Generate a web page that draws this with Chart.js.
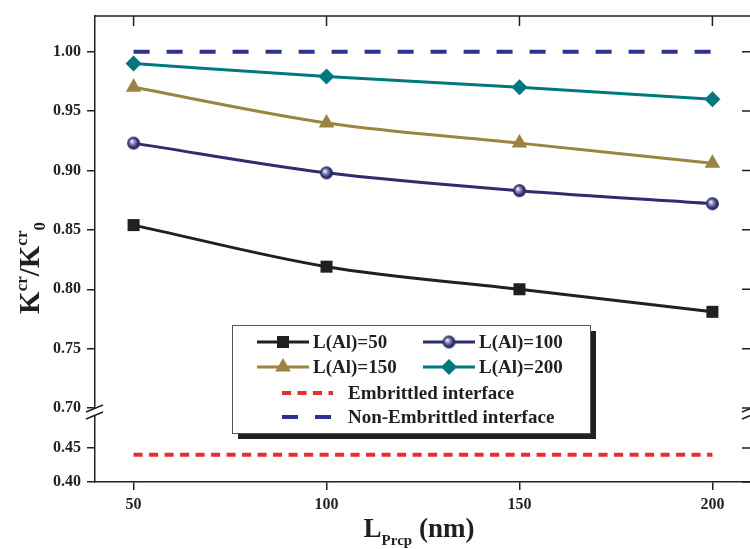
<!DOCTYPE html>
<html>
<head>
<meta charset="utf-8">
<title>K/K0 vs L_Prcp</title>
<script src="https://cdn.jsdelivr.net/npm/chart.js@4.4.1/dist/chart.umd.min.js"></script>
<style>
  html, body { margin: 0; padding: 0; background: #fff; }
  #wrap { width: 750px; height: 549px; overflow: hidden; position: relative; }
</style>
</head>
<body>
<div id="wrap"><canvas id="myChart" width="760" height="549"></canvas></div>
<script>
// data
const lPrcp = [50, 100, 150, 200];
const kAl50 = [0.854, 0.819, 0.800, 0.781];
const kAl100 = [0.923, 0.898, 0.883, 0.872];
const kAl150 = [0.970, 0.940, 0.923, 0.906];
const kAl200 = [0.990, 0.979, 0.970, 0.960];
const refX = [50, 200];
const embrittled = [0.44, 0.44];
const nonEmbrittled = [1.00, 1.00];

const xTickValues = [50, 100, 150, 200];
const upperTickValues = [0.70, 0.75, 0.80, 0.85, 0.90, 0.95, 1.00];
const lowerTickValues = [0.40, 0.45];

const FONT = "'Liberation Serif', 'Times New Roman', serif";
const INK = "#231f20";

function pts(xs, ys) {
  return xs.map((x, i) => ({ x: x, y: ys[i] }));
}

// little shaded ball for the L(Al)=100 markers
function makeSphere(r, color) {
  const c = document.createElement("canvas");
  c.width = c.height = r * 2 + 2;
  const g = c.getContext("2d");
  const cx = r + 1, cy = r + 1;
  const grad = g.createRadialGradient(cx - r * 0.3, cy - r * 0.3, 0.3, cx, cy, r);
  grad.addColorStop(0, "#ffffff");
  grad.addColorStop(0.3, "#9897c4");
  grad.addColorStop(0.75, color);
  grad.addColorStop(1, color);
  g.fillStyle = grad;
  g.beginPath();
  g.arc(cx, cy, r, 0, Math.PI * 2);
  g.fill();
  return c;
}
const sphere = makeSphere(6.5, "#2b2a6b");

const datasets = [
  {
    label: "L(Al)=50", data: pts(lPrcp, kAl50), yAxisID: "yHigh",
    borderColor: INK, backgroundColor: INK, borderWidth: 3,
    pointStyle: "rect", pointRadius: 8.5, pointBorderWidth: 0,
    cubicInterpolationMode: "monotone"
  },
  {
    label: "L(Al)=100", data: pts(lPrcp, kAl100), yAxisID: "yHigh",
    borderColor: "#2e2d6e", backgroundColor: "#2e2d6e", borderWidth: 3,
    pointStyle: sphere, pointRadius: 7, pointBorderWidth: 0,
    cubicInterpolationMode: "monotone"
  },
  {
    label: "L(Al)=150", data: pts(lPrcp, kAl150), yAxisID: "yHigh",
    borderColor: "#9a8440", backgroundColor: "#9a8440", borderWidth: 3,
    pointStyle: "triangle", pointRadius: 9, pointBorderWidth: 0,
    cubicInterpolationMode: "monotone"
  },
  {
    label: "L(Al)=200", data: pts(lPrcp, kAl200), yAxisID: "yHigh",
    borderColor: "#00797e", backgroundColor: "#00797e", borderWidth: 3,
    pointStyle: "rectRot", pointRadius: 8, pointBorderWidth: 0,
    cubicInterpolationMode: "monotone"
  },
  {
    label: "Embrittled interface", data: pts(refX, embrittled), yAxisID: "yLow",
    borderColor: "#ee2a2e", borderWidth: 4, borderDash: [9, 6.5],
    pointRadius: 0
  },
  {
    label: "Non-Embrittled interface", data: pts(refX, nonEmbrittled), yAxisID: "yHigh",
    borderColor: "#2e3192", borderWidth: 4, borderDash: [16, 17],
    pointRadius: 0
  }
];

function drawMarker(ctx, ds, x, y) {
  const st = ds.pointStyle;
  const r = ds.pointRadius;
  ctx.fillStyle = ds.backgroundColor;
  if (st instanceof HTMLCanvasElement) {
    ctx.drawImage(st, x - st.width / 2, y - st.height / 2);
    return;
  }
  ctx.beginPath();
  if (st === "rect") {
    const s = Math.SQRT1_2 * r;
    ctx.rect(x - s, y - s, 2 * s, 2 * s);
  } else if (st === "triangle") {
    ctx.moveTo(x, y - r);
    ctx.lineTo(x + Math.sin(2 * Math.PI / 3) * r, y + r / 2);
    ctx.lineTo(x - Math.sin(2 * Math.PI / 3) * r, y + r / 2);
    ctx.closePath();
  } else if (st === "rectRot") {
    ctx.moveTo(x - r, y);
    ctx.lineTo(x, y - r);
    ctx.lineTo(x + r, y);
    ctx.lineTo(x, y + r);
    ctx.closePath();
  }
  ctx.fill();
}

// text made of pieces with sub/superscripts
function drawPieces(ctx, pieces, x, y) {
  let total = 0;
  pieces.forEach(p => {
    ctx.font = "bold " + p.size + "px " + FONT;
    p.w = ctx.measureText(p.t).width;
    total += p.w;
  });
  let cx = x - total / 2;
  pieces.forEach(p => {
    ctx.font = "bold " + p.size + "px " + FONT;
    ctx.fillText(p.t, cx, y + p.dy);
    cx += p.w;
  });
}

const extras = {
  id: "extras",
  afterDraw(chart) {
    const ctx = chart.ctx;
    const area = chart.chartArea;
    const xs = chart.scales.x;
    const yh = chart.scales.yHigh;
    const yl = chart.scales.yLow;
    ctx.save();
    ctx.strokeStyle = INK;
    ctx.fillStyle = INK;
    ctx.lineWidth = 1.5;

    // top and right frame with inward ticks
    ctx.beginPath();
    ctx.moveTo(area.left, area.top);
    ctx.lineTo(area.right, area.top);
    ctx.lineTo(area.right, area.bottom);
    xTickValues.forEach(v => {
      const px = xs.getPixelForValue(v);
      ctx.moveTo(px, area.top);
      ctx.lineTo(px, area.top + 10);
    });
    upperTickValues.forEach(v => {
      const py = yh.getPixelForValue(v);
      ctx.moveTo(area.right, py);
      ctx.lineTo(area.right - 9, py);
    });
    lowerTickValues.forEach(v => {
      const py = yl.getPixelForValue(v);
      ctx.moveTo(area.right, py);
      ctx.lineTo(area.right - 9, py);
    });
    ctx.stroke();

    // axis breaks
    const yj = yh.bottom;
    [area.left, area.right].forEach(bx => {
      ctx.fillStyle = "#fff";
      ctx.beginPath();
      ctx.moveTo(bx - 9, yj - 2);
      ctx.lineTo(bx + 8, yj - 9);
      ctx.lineTo(bx + 8, yj - 2);
      ctx.lineTo(bx - 9, yj + 5);
      ctx.closePath();
      ctx.fill();
      ctx.beginPath();
      ctx.moveTo(bx - 9, yj - 2);
      ctx.lineTo(bx + 8, yj - 9);
      ctx.moveTo(bx - 9, yj + 5);
      ctx.lineTo(bx + 8, yj - 2);
      ctx.stroke();
    });

    // axis titles
    ctx.fillStyle = INK;
    ctx.textBaseline = "alphabetic";
    ctx.textAlign = "left";
    drawPieces(ctx, [
      { t: "L", size: 27, dy: 0 },
      { t: "Prcp", size: 15, dy: 8 },
      { t: " (nm)", size: 27, dy: 0 }
    ], (area.left + area.right) / 2 - 4, 537);

    ctx.save();
    ctx.translate(39, 268);
    ctx.rotate(-Math.PI / 2);
    drawPieces(ctx, [
      { t: "K", size: 29, dy: 0 },
      { t: "cr", size: 17, dy: -12 },
      { t: "/K", size: 29, dy: 0 },
      { t: "cr", size: 17, dy: -12 },
      { t: "0", size: 17, dy: 6 }
    ], 0, 0);
    ctx.restore();

    // legend box with drop shadow
    const bx = 232, by = 325, bw = 358, bh = 108;
    ctx.fillStyle = INK;
    ctx.fillRect(bx + 6, by + 6, bw, bh);
    ctx.fillStyle = "#fff";
    ctx.fillRect(bx, by, bw, bh);
    ctx.strokeStyle = "#555";
    ctx.lineWidth = 1;
    ctx.strokeRect(bx + 0.5, by + 0.5, bw, bh);

    const slots = [
      { x0: 257, x1: 309, tx: 313, y: 342 },
      { x0: 423, x1: 475, tx: 479, y: 342 },
      { x0: 257, x1: 309, tx: 313, y: 367 },
      { x0: 423, x1: 475, tx: 479, y: 367 },
      { x0: 282, x1: 333, tx: 348, y: 393 },
      { x0: 282, x1: 333, tx: 348, y: 417 }
    ];
    ctx.textBaseline = "middle";
    chart.data.datasets.forEach((ds, i) => {
      const s = slots[i];
      ctx.strokeStyle = ds.borderColor;
      ctx.lineWidth = ds.borderWidth;
      ctx.setLineDash(ds.borderDash || []);
      ctx.beginPath();
      ctx.moveTo(s.x0, s.y);
      ctx.lineTo(s.x1, s.y);
      ctx.stroke();
      ctx.setLineDash([]);
      if (ds.pointRadius > 0) drawMarker(ctx, ds, (s.x0 + s.x1) / 2, s.y);
      ctx.fillStyle = INK;
      ctx.font = "bold 19px " + FONT;
      ctx.fillText(ds.label, s.tx, s.y + 1);
    });
    ctx.restore();
  }
};

const tickFont = { family: FONT, size: 16, weight: "bold" };
const axisGrid = { drawOnChartArea: false, tickLength: 8, color: INK, lineWidth: 1.5 };
const axisBorder = { color: INK, width: 1.5 };

const ctx = document.getElementById("myChart").getContext("2d");
const myChart = new Chart(ctx, {
  type: "line",
  data: { datasets: datasets },
  options: {
    responsive: false,
    animation: false,
    devicePixelRatio: 1,
    layout: { padding: { top: 16, right: 8, left: 0, bottom: 0 } },
    plugins: { legend: { display: false }, tooltip: { enabled: false } },
    scales: {
      x: {
        type: "linear", min: 40, max: 210,
        grid: axisGrid, border: axisBorder,
        afterBuildTicks: (s) => { s.ticks = xTickValues.map(v => ({ value: v })); },
        afterFit: (s) => { s.height = 67; },
        ticks: { font: tickFont, color: INK, padding: 5, maxRotation: 0 }
      },
      yLow: {
        type: "linear", position: "left", stack: "k", stackWeight: 68,
        min: 0.40, max: 0.50,
        grid: axisGrid, border: axisBorder,
        afterBuildTicks: (s) => { s.ticks = lowerTickValues.map(v => ({ value: v })); },
        afterFit: (s) => { s.width = 95; },
        ticks: { font: tickFont, color: INK, padding: 6, callback: (v) => v.toFixed(2) }
      },
      yHigh: {
        type: "linear", position: "left", stack: "k", stackWeight: 398,
        min: 0.695, max: 1.03,
        grid: axisGrid, border: axisBorder,
        afterBuildTicks: (s) => { s.ticks = upperTickValues.map(v => ({ value: v })); },
        afterFit: (s) => { s.width = 95; },
        ticks: { font: tickFont, color: INK, padding: 6, callback: (v) => v.toFixed(2) }
      }
    }
  },
  plugins: [extras]
});
</script>
</body>
</html>
